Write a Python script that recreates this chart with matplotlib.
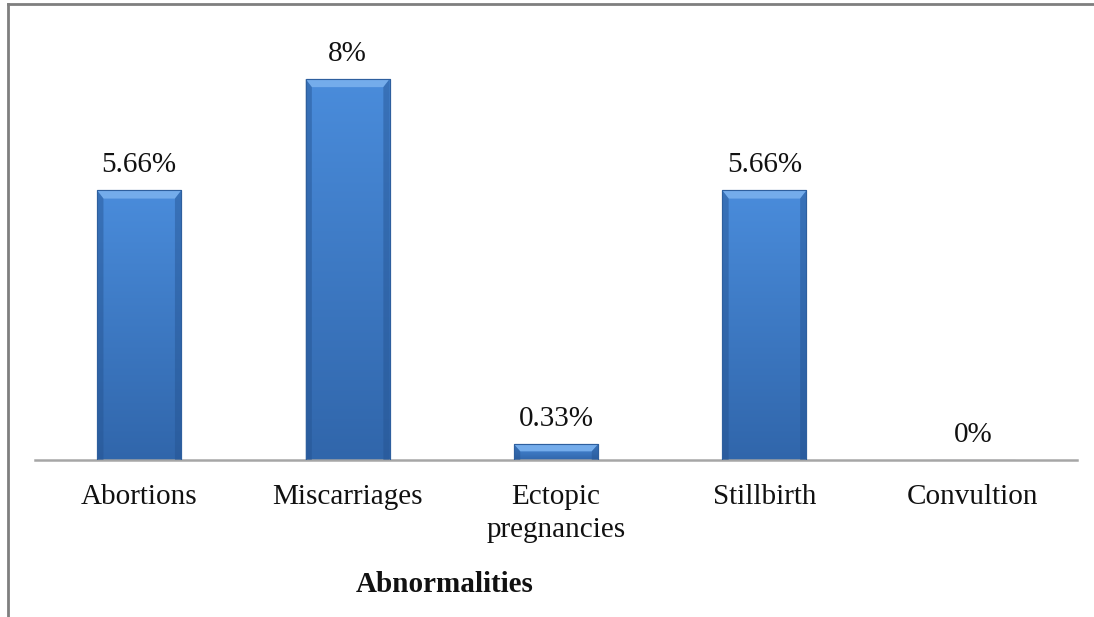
import numpy as np
import matplotlib
matplotlib.use("Agg")
import matplotlib.pyplot as plt
from matplotlib.lines import Line2D

categories = ["Abortions", "Miscarriages", "Ectopic\npregnancies", "Stillbirth", "Convultion"]
values = [5.66, 8.0, 0.33, 5.66, 0.0]
value_labels = ["5.66%", "8%", "0.33%", "5.66%", "0%"]
xlabel = "Abnormalities"

W, H = 1094, 617
fig = plt.figure(figsize=(W / 100, H / 100), dpi=100)
fig.patch.set_facecolor("white")

ax = fig.add_axes([35 / W, (H - 460) / H, (1077 - 35) / W, (460 - 20) / H])
ax.set_xlim(-0.5, len(categories) - 0.5)
ax.set_ylim(0, 9.24)

serif = ["Liberation Serif", "DejaVu Serif"]
bar_w = 0.403
x = np.arange(len(categories))
bars = ax.bar(x, values, width=bar_w, color="#3c7acb", edgecolor="#2e5f9e",
              linewidth=0.8, zorder=2)

# vertical shading inside each bar: lighter top, darker bottom
c_top = np.array([0.29, 0.55, 0.86])
c_bot = np.array([0.19, 0.40, 0.67])
t = np.linspace(0, 1, 200)[:, None]
img = (c_top[None, :] * (1 - t) + c_bot[None, :] * t)[:, None, :]

for b in bars:
    x0, w, h = b.get_x(), b.get_width(), b.get_height()
    if h <= 0:
        continue
    im = ax.imshow(img, extent=[x0, x0 + w, 0, h], aspect="auto", origin="upper",
                   zorder=2.5, interpolation="bilinear")
    im.set_clip_path(b)
    # bevelled edges
    dx = 0.03
    dy = min(0.17, h * 0.45)
    top = plt.Polygon([[x0, h], [x0 + w, h], [x0 + w - dx, h - dy], [x0 + dx, h - dy]],
                      closed=True, facecolor="#74aceb", edgecolor="none", zorder=3)
    ax.add_patch(top)
    for side in (
        [[x0, h], [x0 + dx, h - dy], [x0 + dx, 0], [x0, 0]],
        [[x0 + w, h], [x0 + w - dx, h - dy], [x0 + w - dx, 0], [x0 + w, 0]],
    ):
        ax.add_patch(plt.Polygon(side, closed=True, facecolor="#24528f",
                                 edgecolor="none", zorder=3, alpha=0.45))
    ax.add_patch(plt.Rectangle((x0, 0), w, h, fill=False, edgecolor="#2e5f9e",
                               linewidth=0.8, zorder=3.5))

for xi, v, lab in zip(x, values, value_labels):
    ax.annotate(lab, (xi, v), xytext=(0, 9), textcoords="offset points",
                ha="center", va="bottom", fontsize=21, family=serif, color="#111111")

for s in ["top", "right", "left"]:
    ax.spines[s].set_visible(False)
ax.spines["bottom"].set_color("#a6a6a6")
ax.spines["bottom"].set_linewidth(1.8)
ax.set_yticks([])
ax.set_xticks(x)
ax.set_xticklabels(categories, fontsize=21, family=serif, color="#111111", linespacing=1.38)
ax.tick_params(axis="x", length=0, pad=17)

fig.text(445 / W, 1 - 585 / H, xlabel, ha="center", va="center",
         fontsize=21, fontweight="bold", family=serif, color="#111111")

# outer frame lines (top and left)
fig.add_artist(Line2D([8 / W, 1.0], [1 - 4 / H, 1 - 4 / H], color="#7f7f7f", linewidth=2))
fig.add_artist(Line2D([8 / W, 8 / W], [0, 1 - 4 / H], color="#7f7f7f", linewidth=2))

fig.savefig("out.png", dpi=100)
